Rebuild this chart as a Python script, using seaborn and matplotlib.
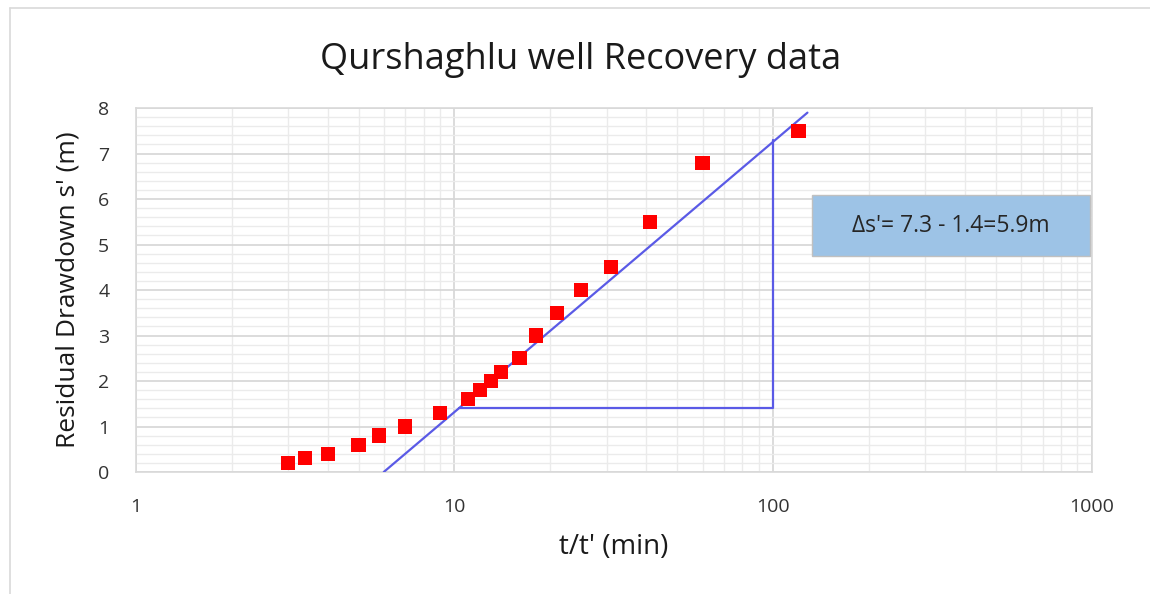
import matplotlib
matplotlib.use("Agg")
import matplotlib.pyplot as plt
import matplotlib.ticker as mticker
from matplotlib.patches import Rectangle
from matplotlib.lines import Line2D
import pandas as pd
import seaborn as sns

# recovery data
t_ratio = [3, 3.4, 4, 5, 5.8, 7, 9, 11, 12, 13, 14, 16, 18, 21, 25, 31, 41, 60, 120]
drawdown = [0.2, 0.3, 0.4, 0.6, 0.8, 1.0, 1.3, 1.6, 1.8, 2.0, 2.2, 2.5, 3.0, 3.5, 4.0, 4.5, 5.5, 6.8, 7.5]

# straight-line fit and the delta-s' construction
fit_x = [6, 128]
fit_y = [0, 7.9]
tri_x = [10.3, 100, 100]
tri_y = [1.4, 1.4, 7.3]

df = pd.DataFrame({"t": t_ratio, "s": drawdown})

sns.set_theme(style="white")
plt.rcParams["font.family"] = ["Open Sans", "DejaVu Sans"]

fig = plt.figure(figsize=(11.5, 5.94), dpi=100)
ax = fig.add_axes([0.118, 0.2054, 0.8316, 0.6126])

line_col = "#5A5AE6"
ax.plot(fit_x, fit_y, color=line_col, lw=1.6, zorder=3)
ax.plot(tri_x, tri_y, color=line_col, lw=1.6, zorder=3)
sns.scatterplot(data=df, x="t", y="s", marker="s", s=105, color="#FF0000",
                edgecolor="none", ax=ax, zorder=4)

ax.set_xscale("log")
ax.set_xlim(1, 1000)
ax.set_ylim(0, 8)
ax.xaxis.set_major_locator(mticker.FixedLocator([1, 10, 100, 1000]))
ax.xaxis.set_major_formatter(mticker.FuncFormatter(lambda v, p: f"{v:g}"))
ax.xaxis.set_minor_locator(mticker.LogLocator(base=10, subs=range(2, 10)))
ax.xaxis.set_minor_formatter(mticker.NullFormatter())
ax.yaxis.set_major_locator(mticker.MultipleLocator(1))
ax.yaxis.set_minor_locator(mticker.MultipleLocator(0.2))

ax.grid(which="major", color="#d6d6d6", lw=1.2, zorder=0)
ax.grid(which="minor", color="#ebebeb", lw=1.0, zorder=0)
ax.set_axisbelow(True)
for sp in ax.spines.values():
    sp.set_color("#d9d9d9")
    sp.set_linewidth(1.2)
ax.tick_params(which="both", length=0)
ax.tick_params(axis="x", pad=19, labelsize=14, labelcolor="#333333")
ax.tick_params(axis="y", pad=19, labelsize=14, labelcolor="#333333")

ax.set_title("Qurshaghlu well Recovery data", fontsize=26, color="#1a1a1a",
             pad=28, x=0.4655)
ax.set_xlabel("t/t' (min)", fontsize=20, color="#1a1a1a", labelpad=12)
ax.set_ylabel("Residual Drawdown s' (m)", fontsize=19, color="#1a1a1a", labelpad=13)

# annotation box
ax.add_patch(Rectangle((0.707, 0.593), 0.291, 0.168, transform=ax.transAxes,
                       facecolor="#9DC3E6", edgecolor="#c0c0c0", lw=1, zorder=5))
ax.text(0.8525, 0.677, "\u0394s'= 7.3 - 1.4=5.9m", transform=ax.transAxes,
        ha="center", va="center", fontsize=16.5, color="#262626", zorder=6)

# outer frame left/top edges
fig.add_artist(Line2D([10 / 1150, 10 / 1150], [0, 1 - 8 / 594], color="#d9d9d9", lw=1.2))
fig.add_artist(Line2D([10 / 1150, 1], [1 - 8 / 594, 1 - 8 / 594], color="#d9d9d9", lw=1.2))

fig.savefig("out.png", dpi=100)
